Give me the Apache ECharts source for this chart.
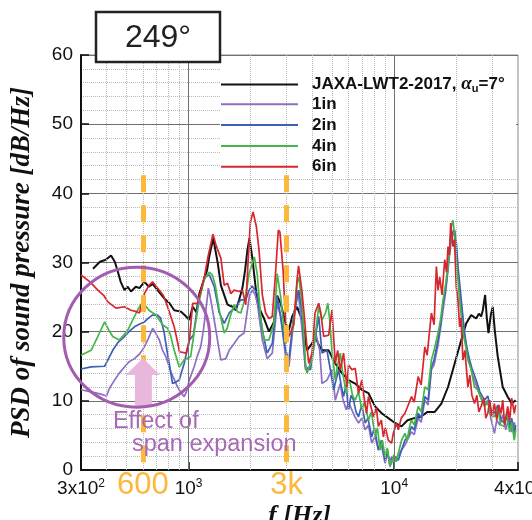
<!DOCTYPE html>
<html><head><meta charset="utf-8">
<script src="https://cdn.jsdelivr.net/npm/echarts@6/dist/echarts.min.js"></script>
<style>html,body{margin:0;padding:0;background:#fff}#c{width:532px;height:520px}</style>
</head><body><div id="c"></div><script>
// ---- data: [frequency Hz, PSD dB/Hz] ----
const jaxa = [[343,29.1],[371,30.1],[396,30.4],[420,31.0],[438,30.1],[453,28.7],[468,27.2],[488,26.0],[506,26.5],[525,25.8],[554,26.5],[577,26.3],[610,27.2],[642,26.5],[669,26.9],[707,26.0],[762,24.8],[808,24.1],[852,23.1],[917,22.9],[966,22.3],[1008,21.7],[1048,23.6],[1092,22.8],[1129,25.5],[1231,28.9],[1262,30.9],[1319,33.5],[1387,29.9],[1437,26.7],[1547,23.9],[1635,23.6],[1698,23.1],[1762,24.6],[1828,26.3],[1884,28.9],[1933,31.8],[1979,33.5],[2044,30.6],[2083,28.4],[2160,24.3],[2252,22.8],[2329,21.9],[2462,20.0],[2602,21.4],[2699,25.2],[2804,24.1],[2965,21.2],[3075,20.2],[3191,22.2],[3369,23.6],[3566,21.7],[3766,17.3],[3987,18.3],[4140,19.3],[4296,18.1],[4457,17.3],[4802,17.3],[5172,15.4],[5568,14.0],[5999,13.0],[6463,12.5],[6958,11.6],[7497,11.1],[8075,9.2],[8693,8.2],[9367,7.5],[10090,6.8],[10862,6.3],[11614,7.2],[12512,7.5],[13481,7.7],[14520,8.4],[15751,8.4],[16958,9.6],[18271,12.0],[19681,15.4],[21188,18.8],[22404,21.2],[23684,22.4],[25035,21.9],[25803,22.6],[26474,22.2],[26980,23.1],[27679,25.3],[28211,22.0],[28742,19.8],[29496,22.4],[30158,23.6],[30839,20.2],[31886,16.4],[33710,12.0],[35641,10.6],[37263,9.6],[38961,10.1]];
const in1 = [[300,11.6],[336,11.3],[371,11.0],[399,10.7],[414,11.9],[437,13.0],[458,13.9],[488,14.9],[512,15.6],[546,16.1],[579,16.8],[610,17.8],[640,19.1],[669,20.5],[692,19.8],[721,18.8],[748,17.3],[776,16.4],[820,14.2],[855,13.0],[884,12.0],[914,11.3],[952,10.6],[977,11.3],[1008,13.0],[1064,14.9],[1104,16.5],[1146,17.8],[1181,20.2],[1214,23.1],[1249,26.3],[1276,25.0],[1309,23.1],[1359,20.2],[1395,18.1],[1437,15.9],[1519,16.1],[1576,17.3],[1667,18.3],[1762,19.3],[1863,19.8],[1933,23.1],[1979,25.2],[2044,26.0],[2106,25.4],[2160,24.1],[2285,18.8],[2411,16.1],[2554,16.9],[2699,24.1],[2804,22.2],[2965,16.4],[3075,14.9],[3252,21.7],[3407,26.0],[3566,20.2],[3703,14.5],[3843,14.7],[3987,16.4],[4121,20.2],[4344,17.3],[4457,12.5],[4713,13.0],[4981,14.5],[5172,10.1],[5469,12.5],[5611,10.4],[5843,8.7],[5999,9.8],[6225,8.7],[6415,7.8],[6707,6.8],[6958,7.5],[7225,5.8],[7497,6.5],[7777,3.9],[8075,4.9],[8380,2.9],[8665,3.6],[9026,1.0],[9263,2.2],[9545,1.4],[9717,1.9],[10014,1.2],[10470,2.2],[10862,2.9],[11278,3.6],[11704,4.6],[12142,5.5],[12512,5.1],[13082,7.5],[13527,6.9],[14092,10.1],[14624,9.4],[15171,14.5],[15633,15.2],[16346,18.1],[16804,20.5],[17282,23.1],[17766,25.6],[18271,28.9],[18682,31.8],[19212,34.4],[19681,33.8],[20093,31.8],[20424,28.9],[20882,25.3],[21353,23.1],[22000,19.5],[22578,17.3],[23343,15.2],[24137,13.6],[25035,12.3],[26092,10.8],[27488,9.4],[28525,10.1],[29496,7.5],[30726,5.3],[31534,7.2],[32601,6.5],[33710,8.0],[34855,5.8],[36038,7.5],[37263,5.5],[38391,6.9],[38961,5.8]];
const in2 = [[300,14.6],[336,14.9],[391,15.0],[410,16.2],[428,17.3],[453,18.4],[488,19.3],[518,20.1],[546,20.7],[579,21.1],[610,21.4],[640,22.0],[669,22.4],[707,22.4],[731,22.0],[762,19.8],[782,17.6],[806,15.4],[836,12.5],[864,12.7],[901,13.0],[952,15.4],[1010,18.8],[1056,19.5],[1108,23.9],[1155,26.0],[1194,27.9],[1262,28.2],[1334,26.5],[1411,22.7],[1491,21.2],[1576,22.7],[1698,23.6],[1796,24.6],[1898,24.6],[1970,26.0],[2037,26.6],[2083,26.7],[2160,25.5],[2285,20.2],[2411,16.9],[2554,18.3],[2699,25.1],[2804,22.2],[2965,17.3],[3075,15.9],[3252,22.7],[3438,26.0],[3566,22.7],[3703,14.9],[3916,14.5],[4140,19.3],[4296,22.2],[4457,16.9],[4713,17.3],[4893,14.5],[5076,11.6],[5367,14.5],[5518,12.3],[5674,10.6],[5833,12.3],[5999,8.7],[6168,10.8],[6344,10.1],[6521,8.4],[6707,7.7],[6958,9.4],[7225,6.8],[7455,7.5],[7777,4.8],[8014,6.1],[8380,2.9],[8665,4.3],[9026,1.4],[9263,2.9],[9545,0.5],[9793,1.7],[10090,1.9],[10470,1.4],[10862,2.9],[11278,4.3],[11704,4.9],[12142,6.3],[12512,5.8],[13082,8.2],[13527,7.5],[14092,10.6],[14624,10.1],[15171,14.9],[15633,15.9],[16346,18.8],[16804,21.0],[17282,24.1],[17766,26.0],[18271,29.4],[18955,34.2],[19681,34.7],[20093,32.5],[20424,29.4],[21188,24.6],[21593,22.0],[22000,19.8],[22578,17.6],[23264,15.9],[23869,14.7],[25035,13.0],[26092,11.3],[27488,10.1],[28525,10.7],[29496,8.7],[30726,8.2],[31886,9.4],[33078,7.2],[34345,6.8],[35912,8.4],[36442,6.1],[37263,7.5],[38391,5.3],[38961,6.5]];
const in4 = [[300,16.6],[336,17.3],[362,19.3],[391,21.4],[410,20.2],[428,19.3],[460,18.8],[484,19.5],[506,20.2],[546,22.2],[572,23.4],[598,24.3],[642,23.1],[694,22.4],[748,21.0],[791,20.5],[817,19.5],[852,17.3],[901,14.9],[952,15.9],[1024,16.4],[1068,20.2],[1129,24.6],[1190,27.5],[1262,28.6],[1305,28.2],[1349,26.7],[1411,23.1],[1491,19.8],[1542,20.5],[1594,22.2],[1667,23.9],[1729,22.9],[1796,22.7],[1898,25.1],[1970,28.4],[2089,30.8],[2160,28.2],[2244,22.0],[2329,18.8],[2462,18.8],[2602,21.2],[2699,28.4],[2804,25.1],[2965,18.3],[3042,19.2],[3191,20.2],[3288,23.1],[3369,27.0],[3438,27.9],[3566,24.1],[3703,15.4],[3766,14.0],[3987,15.9],[4140,19.8],[4296,23.6],[4457,21.7],[4645,22.8],[4759,24.1],[4855,21.7],[4981,17.3],[5172,13.0],[5308,15.2],[5469,16.9],[5611,14.2],[5843,11.1],[5933,13.0],[6114,12.5],[6273,10.8],[6463,10.1],[6707,11.3],[6958,8.7],[7171,9.8],[7497,7.2],[7751,8.4],[8075,4.8],[8287,6.1],[8539,2.9],[8761,4.3],[9026,1.9],[9263,3.2],[9524,0.6],[9717,1.0],[9960,2.2],[10239,1.2],[10470,2.4],[10862,4.3],[11278,5.3],[11575,4.3],[11900,6.4],[12142,7.2],[12512,6.5],[13082,9.2],[13527,8.4],[14092,12.0],[14624,11.6],[15171,15.9],[15633,17.3],[16346,19.8],[16804,21.7],[17282,24.6],[17766,26.7],[18271,29.4],[18682,32.5],[18955,35.2],[19317,36.1],[19644,34.0],[20036,30.4],[20424,27.5],[20812,24.6],[21233,22.0],[21593,19.8],[22198,18.1],[22831,15.9],[23606,14.7],[24591,12.0],[25519,11.6],[26386,10.4],[27488,9.2],[28525,9.8],[29496,8.0],[30726,7.7],[31886,9.0],[32969,6.5],[34345,6.3],[35248,8.0],[36442,5.5],[37263,6.9],[38391,4.3],[38961,5.8]];
const in6 = [[300,28.2],[332,27.2],[362,26.0],[388,25.2],[405,24.3],[444,23.4],[488,23.6],[525,23.1],[558,22.9],[577,22.7],[610,25.5],[642,26.7],[669,27.2],[721,26.0],[756,25.2],[791,23.6],[852,20.7],[884,18.5],[904,17.1],[973,16.9],[1010,18.8],[1048,24.1],[1108,24.1],[1194,27.9],[1249,31.1],[1315,34.1],[1364,32.4],[1437,30.6],[1491,26.7],[1547,27.0],[1606,25.5],[1667,26.0],[1762,25.8],[1828,26.0],[1898,23.9],[1948,30.1],[1999,35.9],[2060,37.3],[2137,35.2],[2202,31.8],[2285,25.3],[2372,22.7],[2462,21.9],[2554,22.2],[2651,28.6],[2733,34.7],[2782,34.4],[2886,28.7],[2965,21.2],[3075,19.3],[3252,21.0],[3369,27.5],[3428,29.5],[3555,26.0],[3634,23.1],[3758,18.1],[3843,15.4],[3987,16.9],[4121,22.7],[4296,24.1],[4393,22.8],[4542,19.3],[4802,19.5],[4981,23.1],[5172,15.4],[5308,17.3],[5469,14.5],[5674,16.9],[5886,12.0],[5999,15.2],[6225,14.5],[6463,14.7],[6707,11.1],[6958,13.0],[7171,10.1],[7342,8.2],[7497,10.6],[7777,8.7],[7926,7.7],[8195,9.0],[8380,6.3],[8665,7.2],[8859,4.8],[9059,6.1],[9367,4.3],[9717,3.9],[9903,5.3],[10271,6.8],[10470,5.8],[10826,7.5],[11278,8.2],[11704,9.4],[12142,10.6],[12512,9.8],[13082,13.5],[13527,12.3],[14092,17.8],[14462,16.6],[15171,22.7],[15633,21.0],[16041,29.4],[16346,26.0],[16657,27.9],[17090,25.3],[17607,30.4],[17976,28.6],[18271,32.3],[18578,31.1],[18828,35.7],[19103,34.0],[19317,32.3],[19644,33.3],[20036,26.5],[20424,24.6],[20812,20.7],[21118,22.0],[21593,15.9],[22080,17.3],[22831,12.0],[23343,13.7],[23869,10.8],[24591,9.6],[25238,10.8],[25803,8.4],[26474,9.2],[27282,10.4],[27896,7.5],[28525,8.2],[29166,10.1],[29824,7.8],[30726,9.6],[31534,7.2],[32240,9.4],[33078,8.2],[33710,10.1],[34471,6.5],[35641,9.2],[36442,7.2],[37263,10.4],[38391,8.2],[38961,9.4]];

const seriesNames = ['JAXA-LWT2-2017, αu=7°', '1in', '2in', '4in', '6in'];
const seriesData = [jaxa, in1, in2, in4, in6];
const seriesColors = ['#111111', '#8c6fc3', '#3b60b6', '#46b549', '#d7262d'];
const seriesWidths = [2, 1.7, 1.7, 1.7, 1.7];

const xMin = 300, xMax = 40000;
const xTickValues = [300, 1000, 10000, 40000];
const xTickTexts = ['{n|3x10}{s|2}', '{n|10}{s|3}', '{n|10}{s|4}', '{n|4x10}{s|4}'];
const xMinorGrid = [400, 500, 600, 700, 800, 900, 2000, 3000, 4000, 5000, 6000, 7000, 8000, 9000, 20000, 30000];
const xMajorGrid = [1000, 10000];
const yMin = 0, yMax = 60, yInterval = 10;

const markFreqs = [600, 3000];
const markTexts = ['600', '3k'];
const markTop = 42.6;

const titleText = '249°';
const noteLines = ['Effect of', 'span expansion'];
const circleCenter = [560, 19.2];
const arrowTip = [600, 16.2];

const chart = echarts.init(document.getElementById('c'), null, {renderer: 'canvas'});

const lineSeries = seriesData.map((d, i) => ({
  type: 'line', name: seriesNames[i], data: d, symbol: 'none', showSymbol: false,
  z: 2, animation: false, silent: true,
  lineStyle: {color: seriesColors[i], width: seriesWidths[i]},
  itemStyle: {color: seriesColors[i]}
}));

const legendText = {
  fontFamily: 'Liberation Sans', fontWeight: 'bold', fontSize: 17, color: '#111',
  rich: {
    g: {width: 9},
    a: {fontFamily: 'Liberation Sans', fontWeight: 'bold', fontSize: 17, color: '#111'},
    al: {fontFamily: 'Liberation Serif', fontStyle: 'italic', fontSize: 19, color: '#111'},
    u: {fontFamily: 'Liberation Sans', fontWeight: 'bold', fontSize: 11, color: '#111', padding: [8, 0, 0, 0]}
  }
};
const legends = seriesNames.map((n, i) => ({
  data: [n], orient: 'vertical', left: 220, top: 75 + i * 20.8, padding: 0,
  itemWidth: 77, itemHeight: 14, selectedMode: false, z: 10,
  itemStyle: {opacity: 0, borderWidth: 0},
  formatter: name => i === 0 ? '{g|}{a|JAXA-LWT2-2017, }{al|α}{u|u}{a|=7°}' : '{g|}{a|' + name + '}',
  textStyle: legendText
}));

const option = {
  animation: false,
  backgroundColor: '#fff',
  grid: {left: 81, right: 14, top: 55, bottom: 50, show: true, borderColor: '#8a8a8a', borderWidth: 1, outerBoundsMode: 'none', containLabel: false},
  xAxis: {
    type: 'log', logBase: 10, min: xMin, max: xMax,
    axisLine: {show: true, lineStyle: {color: '#111', width: 2}},
    axisTick: {show: true, inside: true, length: 8, lineStyle: {color: '#111', width: 1.5}},
    splitLine: {show: false},
    axisLabel: {
      margin: 8, showMinLabel: true, showMaxLabel: true,
      formatter: v => { const k = xTickValues.indexOf(Math.round(v)); return k >= 0 ? xTickTexts[k] : ''; },
      rich: {
        n: {fontSize: 19, fontFamily: 'Liberation Sans', color: '#111'},
        s: {fontSize: 12, fontFamily: 'Liberation Sans', color: '#111', padding: [0, 0, 10, 0]}
      }
    },
    name: 'f [Hz]', nameLocation: 'middle', nameGap: 18,
    nameTextStyle: {fontFamily: 'Liberation Serif', fontStyle: 'italic', fontWeight: 'bold', fontSize: 26, color: '#111'}
  },
  yAxis: {
    type: 'value', min: yMin, max: yMax, interval: yInterval,
    axisLine: {show: true, lineStyle: {color: '#111', width: 2}},
    axisTick: {show: true, inside: true, length: 8, lineStyle: {color: '#111', width: 1.5}},
    axisLabel: {fontSize: 19, fontFamily: 'Liberation Sans', color: '#111', margin: 8},
    splitLine: {show: true, lineStyle: {color: '#707070', width: 1}},
    minorTick: {show: false, splitNumber: 5},
    minorSplitLine: {show: true, lineStyle: {color: '#b8b8b8', type: 'dotted', width: 1}},
    name: 'PSD of sound pressure [dB/Hz]', nameLocation: 'middle', nameGap: 45, nameRotate: 90,
    nameTextStyle: {fontFamily: 'Liberation Serif', fontStyle: 'italic', fontWeight: 'bold', fontSize: 27, color: '#111'}
  },
  legend: legends,
  series: [
    {
      type: 'line', name: 'gridX', data: [], z: 1, silent: true, animation: false,
      markLine: {
        silent: true, symbol: 'none', animation: false, label: {show: false},
        data: xMinorGrid.map(f => ({xAxis: f, lineStyle: {type: 'dotted', color: '#b8b8b8', width: 1}}))
          .concat(xMajorGrid.map(f => ({xAxis: f, lineStyle: {type: 'solid', color: '#707070', width: 1}})))
      }
    },
    ...lineSeries,
    {
      type: 'line', name: 'marks', data: [], z: 5, silent: true, animation: false,
      markLine: {
        silent: true, symbol: 'none', animation: false, label: {show: false},
        lineStyle: {color: '#fcb83a', width: 5, type: [17, 13], opacity: 1},
        data: markFreqs.map(f => [{coord: [f, markTop]}, {coord: [f, 0]}])
      }
    }
  ]
};
chart.setOption(option);

// annotations anchored through the chart's own scales
const px = p => chart.convertToPixel({gridIndex: 0}, p);
const cc = px(circleCenter);
const tip = px(arrowTip);
const base = px([xMin, 0]);
const graphics = [
  {type: 'rect', z: 3, silent: true, shape: {x: 220, y: 56, width: 296, height: 122}, style: {fill: '#fff'}},
  {type: 'rect', z: 20, silent: true, shape: {x: 96, y: 12, width: 124, height: 50}, style: {fill: '#fff', stroke: '#222', lineWidth: 2.5}},
  {type: 'text', z: 21, silent: true, x: 158, y: 38, style: {text: titleText, fontSize: 32, fontFamily: 'Liberation Sans', fill: '#222', align: 'center', verticalAlign: 'middle'}},
  {type: 'ellipse', z: 20, silent: true, shape: {cx: cc[0], cy: cc[1], rx: 73, ry: 70}, style: {fill: 'none', stroke: '#a35db0', lineWidth: 3}},
  {type: 'polygon', z: 19, silent: true, shape: {points: [[tip[0], tip[1]], [tip[0] + 17, tip[1] + 17], [tip[0] + 9, tip[1] + 17], [tip[0] + 9, tip[1] + 49], [tip[0] - 8, tip[1] + 49], [tip[0] - 8, tip[1] + 17], [tip[0] - 17, tip[1] + 17]]}, style: {fill: '#e9b7db'}},
  {type: 'text', z: 21, silent: true, x: tip[0] - 30, y: tip[1] + 64, style: {text: noteLines[0], fontSize: 23.5, fontFamily: 'Liberation Sans', fill: '#a769b4', align: 'left', verticalAlign: 'middle'}},
  {type: 'text', z: 21, silent: true, x: tip[0] - 11, y: tip[1] + 87, style: {text: noteLines[1], fontSize: 23.5, fontFamily: 'Liberation Sans', fill: '#a769b4', align: 'left', verticalAlign: 'middle'}}
];
markFreqs.forEach((f, i) => {
  const p = px([f, 0]);
  graphics.push({type: 'text', z: 21, silent: true, x: p[0], y: base[1] + 15, style: {text: markTexts[i], fontSize: 31, fontFamily: 'Liberation Sans', fill: '#fcb83a', align: 'center', verticalAlign: 'middle'}});
});
chart.setOption({graphic: graphics});
</script></body></html>
